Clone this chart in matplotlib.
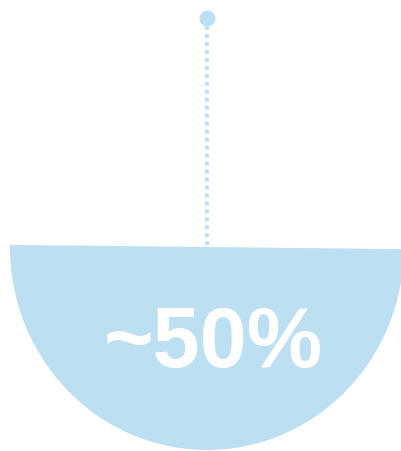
import numpy as np
import matplotlib
matplotlib.use('Agg')
from matplotlib import pyplot as plt

# data
shares = [50, 50]
label = '~50%'
blue = '#bcdff1'

W, H = 401, 451
fig = plt.figure(figsize=(W / 100, H / 100), dpi=100)

# half disc (slightly squashed and tilted), in its own axes
cx, cy, rx, ry = 207, H - 247, 197, 203
pax = fig.add_axes([(cx - rx) / W, (cy - ry) / H, 2 * rx / W, 2 * ry / H])
pax.pie(shares, colors=[blue, 'none'], startangle=179.4, counterclock=True,
        radius=1, wedgeprops=dict(linewidth=0))
pax.set_xlim(-1, 1)
pax.set_ylim(-1, 1)
pax.set_aspect('auto')
pax.axis('off')

ax = fig.add_axes([0, 0, 1, 1])
ax.patch.set_alpha(0)
ax.text(cx + 6, cy - 98, label, color='white', fontsize=61,
        fontweight='bold', family=['Liberation Sans', 'DejaVu Sans'],
        ha='center', va='center')

# leader line with dot
ax.plot([207, 207], [H - 26, H - 247], color=blue, linewidth=2.8,
        dashes=(1, 1.05), solid_capstyle='butt', dash_capstyle='butt')
ax.plot([207], [H - 18], 'o', color=blue, markersize=11.5,
        markeredgewidth=0)

ax.set_xlim(0, W)
ax.set_ylim(0, H)
ax.axis('off')

plt.savefig('out.png', dpi=100)
